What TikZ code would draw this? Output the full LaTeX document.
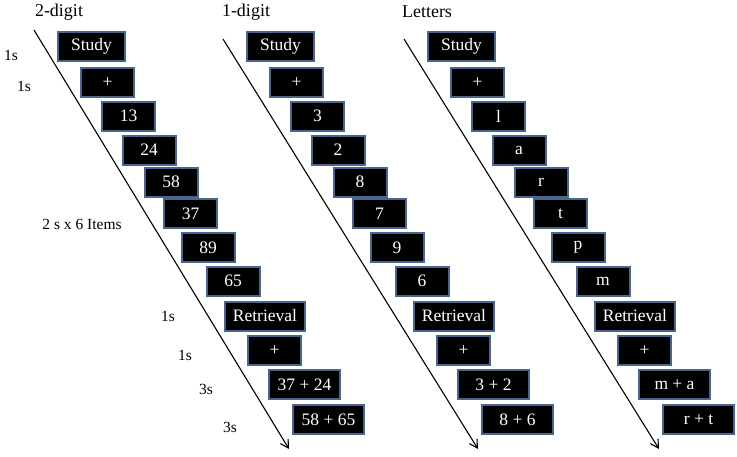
\documentclass[tikz,border=0pt]{standalone}
\usepackage{fontspec}
\setmainfont{Liberation Serif}
\usetikzlibrary{arrows.meta}
\definecolor{bordercol}{RGB}{72,102,142}
\tikzset{
  box/.style={draw=bordercol, line width=2pt, fill=black, text=white,
    minimum height=29pt, inner sep=0pt, font=\fontsize{17.5}{18}\selectfont},
  title/.style={font=\fontsize{18}{20}\selectfont, inner sep=0pt},
  lbl/.style={font=\fontsize{15.5}{17}\selectfont, inner sep=0pt},
  timeline/.style={line width=1.1pt, -{Straight Barb[length=8pt,width=9pt,line width=1.1pt]}}
}
\begin{document}
\begin{tikzpicture}[x=1pt,y=-1pt]
\useasboundingbox (0,0) rectangle (737,456);
\foreach \k/\dx/\ya/\i/\ii/\iii/\iv/\v/\vi/\ra/\rb in
  {a/0/30/13/24/58/37/89/65/37 + 24/58 + 65,
   b/189/39/3/2/8/7/9/6/3 + 2/8 + 6,
   c/370/39/l/a/r/t/p/m/m + a/r + t}{
  \begin{scope}[xshift=\dx]
    \coordinate (\k-top) at (34,\ya);
    \coordinate (\k-tip) at (289,449);
    \draw[timeline] (\k-top) -- (\k-tip);
    \node[box, minimum width=67pt] (\k-study) at (91.5,46.5) {Study};
    \node[box, minimum width=53pt] (\k-fixa) at (107.5,82.5) {+};
    \node[box, minimum width=53pt] (\k-1) at (128.5,116) {\i};
    \node[box, minimum width=53pt] (\k-2) at (149,150) {\ii};
    \node[box, minimum width=53pt] (\k-3) at (171,182) {\iii};
    \node[box, minimum width=53pt] (\k-4) at (190.5,213.5) {\iv};
    \node[box, minimum width=53pt] (\k-5) at (208,247.5) {\v};
    \node[box, minimum width=53pt] (\k-6) at (233,281) {\vi};
    \node[box, minimum width=80pt] (\k-ret) at (265,316) {Retrieval};
    \node[box, minimum width=53pt] (\k-fixb) at (274.5,350.5) {+};
    \node[box, minimum width=71pt] (\k-r1) at (304.5,384.5) {\ra};
    \node[box, minimum width=71pt] (\k-r2) at (328.5,419.5) {\rb};
  \end{scope}
}
\node[title] (t1) at (59,12) {2-digit};
\node[title] (t2) at (246,12) {1-digit};
\node[title] (t3) at (427,12) {Letters};
\node[lbl] (l1) at (11,55) {1s};
\node[lbl] (l2) at (24,86) {1s};
\node[lbl] (l3) at (82,224) {2 s x 6 Items};
\node[lbl] (l4) at (168,316) {1s};
\node[lbl] (l5) at (185,355) {1s};
\node[lbl] (l6) at (206,389) {3s};
\node[lbl] (l7) at (230,427) {3s};
\end{tikzpicture}
\end{document}
